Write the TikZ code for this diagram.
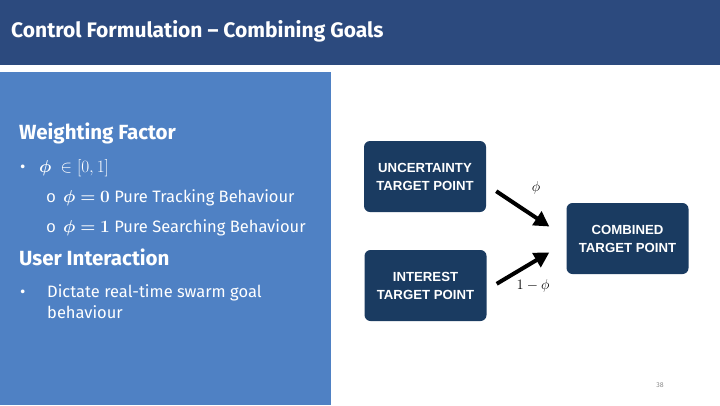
\documentclass[tikz,border=0pt]{standalone}
\usepackage{amsmath}
\usepackage{bm}
\usepackage{fontspec}
\setmainfont{Fira Sans}
\newfontfamily\boxfont{Liberation Sans}[BoldFont={Liberation Sans Bold}]
\newfontfamily\subbulletfont{Liberation Mono}
\usetikzlibrary{arrows.meta,calc}
\definecolor{headblue}{HTML}{2C4A7E}
\definecolor{panelblue}{HTML}{4F81C4}
\definecolor{boxnavy}{HTML}{1A3B61}
\definecolor{pagegray}{HTML}{8C8C8C}
\begin{document}
\begin{tikzpicture}[x=1pt,y=-1pt,
  txt/.style={anchor=base west,inner sep=0pt,text=white},
  heading/.style={txt,font=\fontsize{20.5}{24}\selectfont\bfseries},
  body/.style={txt,font=\fontsize{16.5}{20}\selectfont},
  subbullet/.style={txt,font=\subbulletfont\fontsize{16.5}{20}\selectfont},
  goalbox/.style={fill=boxnavy,rounded corners=6pt,minimum width=122pt,minimum height=71pt,
    text=white,align=center,font=\boxfont\bfseries\fontsize{13.2}{18}\selectfont},
  weight/.style={draw=black,line width=4pt,-{Triangle[length=15pt,width=16pt]}},
  wlabel/.style={inner sep=0pt,font=\fontsize{15}{17}\selectfont}]
\useasboundingbox (0,0) rectangle (720,405);
\fill[white] (0,0) rectangle (720,405);
% title band
\fill[headblue] (0,0) rectangle (720,65);
\node[txt,font=\fontsize{21}{25}\selectfont\bfseries] (title) at (11,37) {Control Formulation -- Combining Goals};
% left panel
\fill[panelblue] (0,72) rectangle (331,405);
\node[heading] (wf) at (19,139) {Weighting Factor};
\node[body] (b1) at (20,172) {\textbullet};
\node[body] (b1t) at (39,172) {$\bm{\phi}\ \in[0,1]$};
\node[subbullet] (s1) at (46,202) {o};
\node[body] (s1t) at (63,202) {$\bm{\phi}\bm{=}\bm{0}$ Pure Tracking Behaviour};
\node[subbullet] (s2) at (46,232) {o};
\node[body] (s2t) at (63,232) {$\bm{\phi}\bm{=}\bm{1}$ Pure Searching Behaviour};
\node[heading] (ui) at (19,265) {User Interaction};
\node[body] (b2) at (20,297) {\textbullet};
\node[body] (b2t) at (47,297) {Dictate real-time swarm goal};
\node[body] (b2u) at (47,318) {behaviour};
% goal diagram
\node[goalbox] (unc) at (425,176.5) {UNCERTAINTY\\TARGET POINT};
\node[goalbox] (int) at (425.5,285.5) {INTEREST\\TARGET POINT};
\node[goalbox] (comb) at (627.5,238.5) {COMBINED\\TARGET POINT};
\draw[weight] ($(unc.south east)+(10,-21)$) -- ($(comb.west)+(-17,-12)$);
\draw[weight] ($(int.north east)+(10,34)$) -- ($(comb.west)+(-17,14)$);
\node[wlabel] (phi) at (536,188) {$\phi$};
\node[wlabel] (omphi) at (533,286) {$1-\phi$};
% page number
\node[inner sep=0pt,text=pagegray,font=\fontsize{7}{8}\selectfont] (pg) at (660,385) {38};
\end{tikzpicture}
\end{document}
